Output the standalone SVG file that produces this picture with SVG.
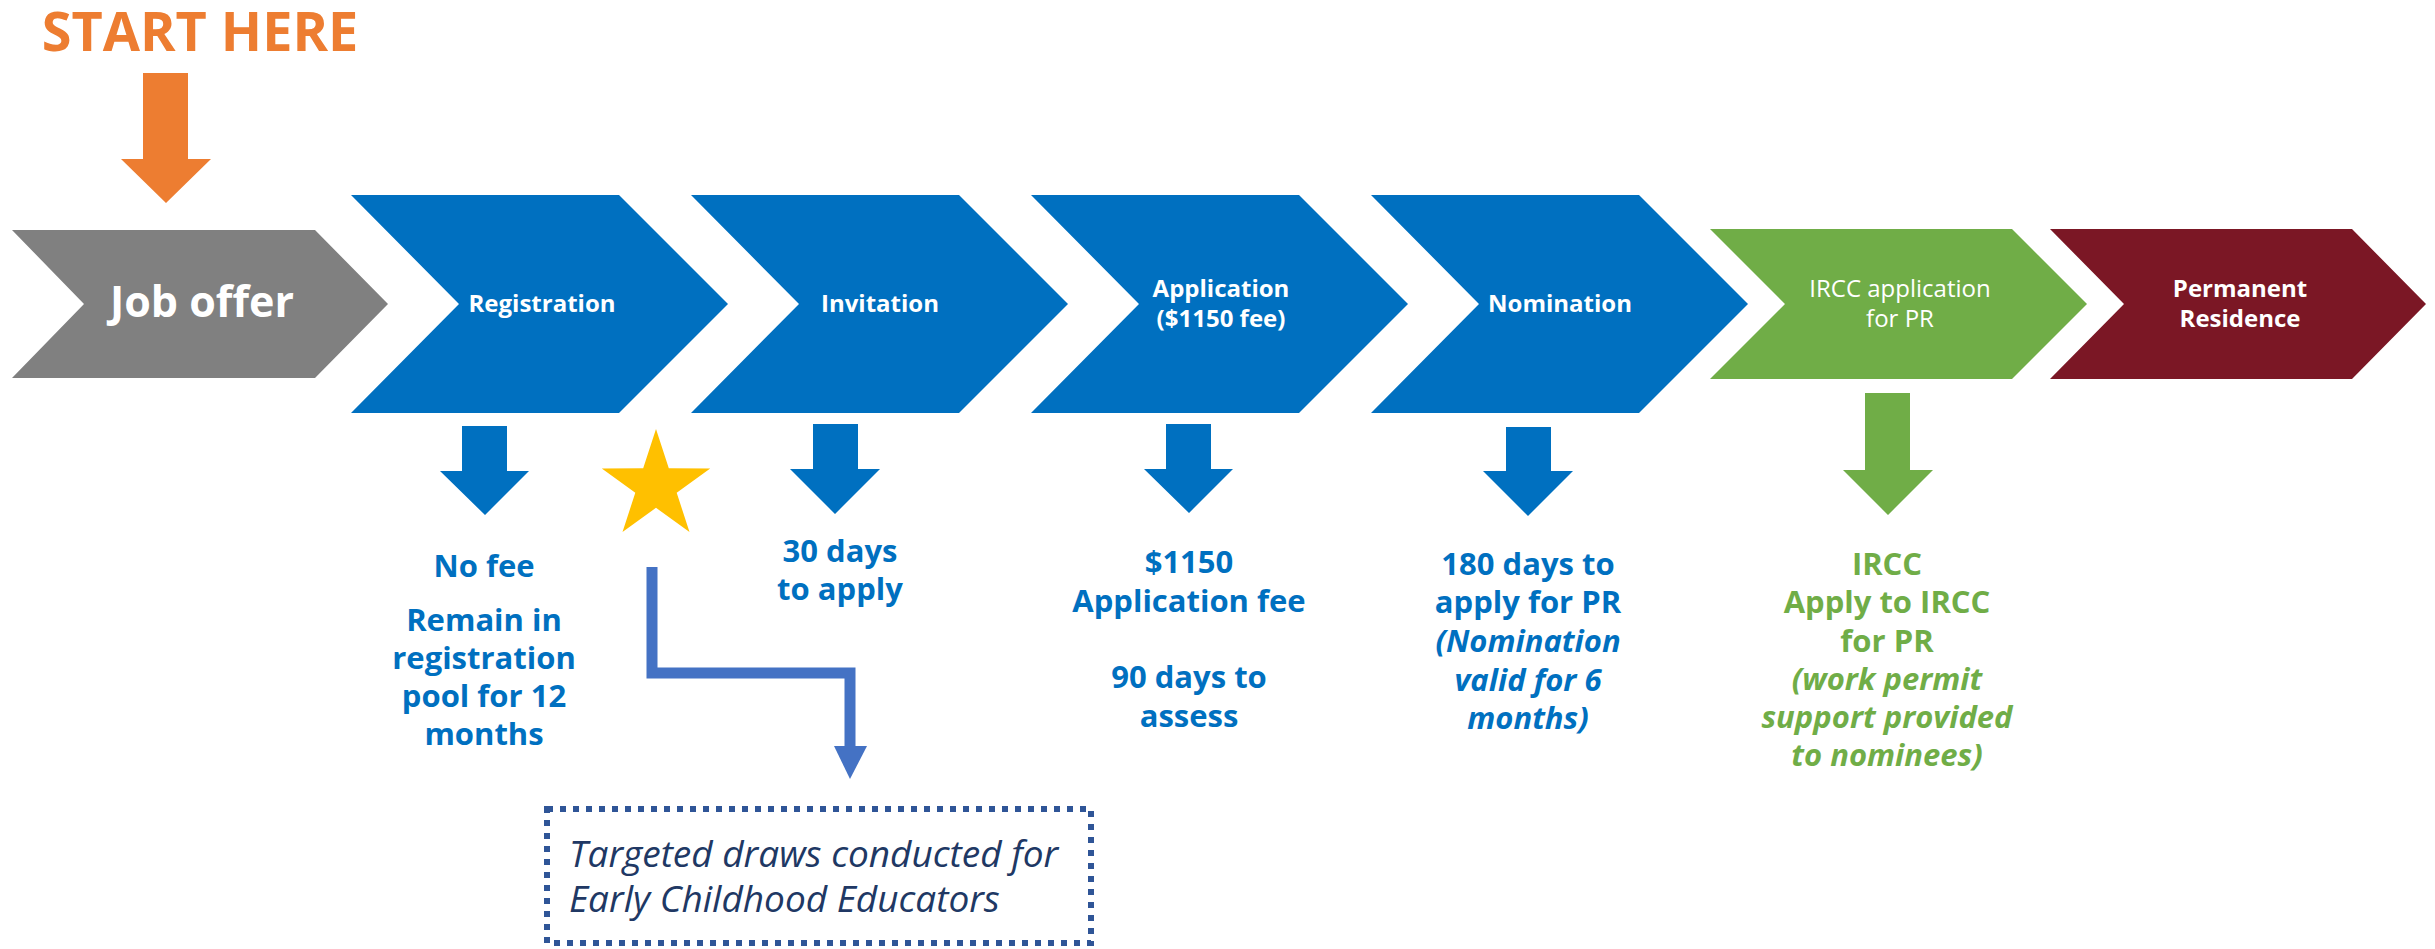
<svg xmlns="http://www.w3.org/2000/svg" width="2435" height="949" viewBox="0 0 2435 949">
<style>
text{font-family:"Open Sans","Noto Sans","Liberation Sans",sans-serif;font-weight:bold;text-anchor:middle}
.w{fill:#ffffff}
.cl{font-size:24px}
.blue{fill:#0070C0}
.green{fill:#70AD47}
.lab{font-size:31px}
.it{font-style:italic}
</style>
<rect width="2435" height="949" fill="#ffffff"/>
<g id="start">
<text x="200" y="51" style="font-size:54px;fill:#ED7D31">START HERE</text>
<polygon points="143,73 188,73 188,159 211,159 166,203 121,159 143,159" fill="#ED7D31"/>
</g>
<g id="job-offer">
<polygon points="12,230 315,230 388,304 315,378 12,378 84,304" fill="#808080"/>
<text x="202" y="317" class="w" style="font-size:43px">Job offer</text>
</g>
<g id="registration">
<polygon points="351,195 619,195 728,304 619,413 351,413 459,304" class="blue"/>
<text x="542" y="312" class="w cl">Registration</text>
</g>
<g id="invitation">
<polygon points="691,195 959,195 1068,304 959,413 691,413 799,304" class="blue"/>
<text x="880" y="312" class="w cl">Invitation</text>
</g>
<g id="application">
<polygon points="1031,195 1299,195 1408,304 1299,413 1031,413 1139,304" class="blue"/>
<text x="1221" y="297" class="w cl">Application</text>
<text x="1221" y="327" class="w cl">($1150 fee)</text>
</g>
<g id="nomination">
<polygon points="1371,195 1639,195 1748,304 1639,413 1371,413 1479,304" class="blue"/>
<text x="1560" y="312" class="w cl">Nomination</text>
</g>
<g id="ircc">
<polygon points="1710,229 2012,229 2087,304 2012,379 1710,379 1785,304" class="green"/>
<text x="1900" y="297" class="w cl" style="font-weight:normal">IRCC application</text>
<text x="1900" y="327" class="w cl" style="font-weight:normal">for PR</text>
</g>
<g id="pr">
<polygon points="2050,229 2352,229 2426,304 2352,379 2050,379 2124,304" fill="#7B1725"/>
<text x="2240" y="297" class="w cl">Permanent</text>
<text x="2240" y="327" class="w cl">Residence</text>
</g>
<g id="note-registration">
<polygon points="462,426 507,426 507,471 529,471 485,515 440,471 462,471" class="blue"/>
<text class="blue lab" x="484"><tspan x="484" y="577">No fee</tspan><tspan x="484" y="631">Remain in</tspan><tspan x="484" y="669">registration</tspan><tspan x="484" y="707">pool for 12</tspan><tspan x="484" y="745">months</tspan></text>
</g>
<g id="star">
<polygon points="656,429 668.8,468.3 710.2,468.4 676.7,492.7 689.5,532.1 656,507.8 622.5,532.1 635.3,492.7 601.8,468.4 643.2,468.3" fill="#FFC000"/>
</g>
<g id="note-invitation">
<polygon points="813,424 858,424 858,469 880,469 835,514 790,469 813,469" class="blue"/>
<text class="blue lab"><tspan x="840" y="562">30 days</tspan><tspan x="840" y="600">to apply</tspan></text>
</g>
<g id="note-application">
<polygon points="1166,424 1211,424 1211,469 1233,469 1189,513 1144,469 1166,469" class="blue"/>
<text class="blue lab"><tspan x="1189" y="573">$1150</tspan><tspan x="1189" y="612">Application fee</tspan><tspan x="1189" y="688">90 days to</tspan><tspan x="1189" y="727">assess</tspan></text>
</g>
<g id="note-nomination">
<polygon points="1506,427 1551,427 1551,471 1573,471 1528,516 1483,471 1506,471" class="blue"/>
<text class="blue lab"><tspan x="1528" y="575">180 days to</tspan><tspan x="1528" y="613">apply for PR</tspan><tspan x="1528" y="652" class="it">(Nomination</tspan><tspan x="1528" y="691" class="it">valid for 6</tspan><tspan x="1528" y="729" class="it">months)</tspan></text>
</g>
<g id="note-ircc">
<polygon points="1865,393 1910,393 1910,470 1933,470 1888,515 1843,470 1865,470" class="green"/>
<text class="green lab"><tspan x="1887" y="575">IRCC</tspan><tspan x="1887" y="613">Apply to IRCC</tspan><tspan x="1887" y="652">for PR</tspan><tspan x="1887" y="690" class="it">(work permit</tspan><tspan x="1887" y="728" class="it">support provided</tspan><tspan x="1887" y="766" class="it">to nominees)</tspan></text>
</g>
<g id="connectors">
<polyline points="652,567 652,673 850,673 850,748" fill="none" stroke="#4472C4" stroke-width="11"/>
<polygon points="834,746 867,746 850,779" fill="#4472C4"/>
</g>
<g id="ece-box">
<rect x="547" y="809" width="544" height="134" fill="none" stroke="#2F5597" stroke-width="6" stroke-dasharray="6 7"/>
<text x="569" y="867" class="it" style="font-size:37px;font-weight:normal;text-anchor:start;fill:#203864">Targeted draws conducted for</text>
<text x="569" y="912" class="it" style="font-size:37px;font-weight:normal;text-anchor:start;fill:#203864">Early Childhood Educators</text>
</g>
</svg>
